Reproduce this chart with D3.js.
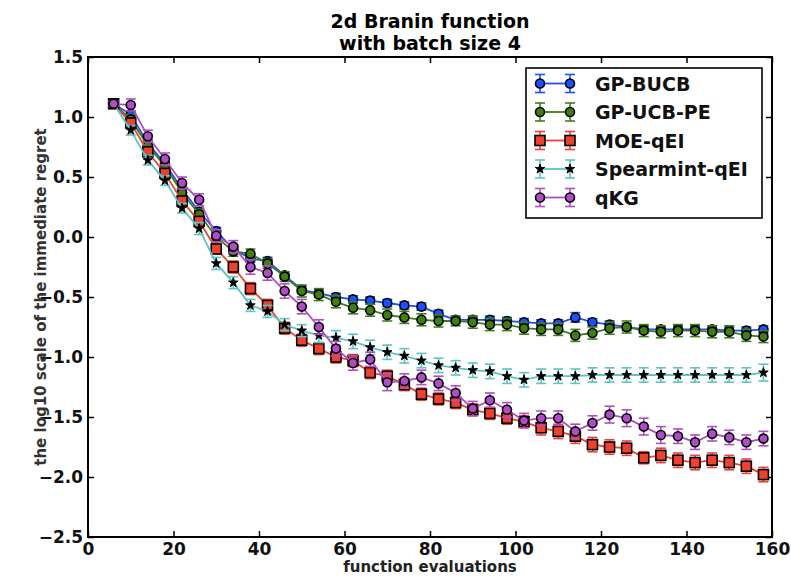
<!DOCTYPE html>
<html>
  <head>
    <meta charset="utf-8">
    <title>2d Branin function with batch size 4</title>
    <script type="text/javascript" src="https://d3js.org/d3.v7.min.js"></script>
    <style>
      body { margin: 0; background: #fff; }
      text { font-family: "DejaVu Sans", sans-serif; }
    </style>
  </head>
  <body>
    <svg></svg>
    <script type="text/javascript">
      "use strict";

      // function evaluations (batch size 4)
      var evals = [6, 10, 14, 18, 22, 26, 30, 34, 38, 42, 46, 50, 54, 58, 62, 66, 70, 74, 78,
                   82, 86, 90, 94, 98, 102, 106, 110, 114, 118, 122, 126, 130, 134, 138, 142,
                   146, 150, 154, 158];

      var bucb = [1.11, 1.02, 0.78, 0.61, 0.40, 0.21, 0.05, -0.10, -0.18, -0.20, -0.32, -0.44,
                  -0.47, -0.50, -0.52, -0.53, -0.55, -0.57, -0.58, -0.64, -0.69, -0.69, -0.69,
                  -0.70, -0.71, -0.72, -0.72, -0.67, -0.71, -0.73, -0.75, -0.77, -0.77, -0.77,
                  -0.77, -0.77, -0.78, -0.78, -0.77];
      var bucbErr = [0.02, 0.03, 0.03, 0.03, 0.03, 0.03, 0.03, 0.03, 0.03, 0.03, 0.03, 0.03,
                     0.03, 0.03, 0.03, 0.03, 0.03, 0.03, 0.03, 0.03, 0.03, 0.03, 0.03, 0.03,
                     0.03, 0.03, 0.03, 0.04, 0.03, 0.03, 0.03, 0.03, 0.03, 0.03, 0.03, 0.03,
                     0.03, 0.03, 0.03];

      var ucbpe = [1.11, 0.98, 0.76, 0.59, 0.37, 0.19, 0.00, -0.12, -0.14, -0.22, -0.33, -0.45,
                   -0.48, -0.54, -0.59, -0.61, -0.65, -0.67, -0.69, -0.70, -0.70, -0.71, -0.73,
                   -0.73, -0.76, -0.77, -0.77, -0.82, -0.80, -0.76, -0.75, -0.78, -0.79, -0.78,
                   -0.78, -0.79, -0.79, -0.82, -0.83];
      var ucbpeErr = [0.02, 0.04, 0.04, 0.04, 0.04, 0.04, 0.04, 0.04, 0.04, 0.04, 0.04, 0.05,
                      0.05, 0.05, 0.05, 0.05, 0.05, 0.05, 0.05, 0.05, 0.04, 0.05, 0.05, 0.05,
                      0.05, 0.05, 0.05, 0.05, 0.05, 0.05, 0.05, 0.05, 0.05, 0.05, 0.05, 0.05,
                      0.05, 0.05, 0.05];

      var moe = [1.11, 0.95, 0.71, 0.53, 0.30, 0.13, -0.10, -0.25, -0.43, -0.57, -0.76, -0.86,
                 -0.93, -1.00, -1.03, -1.13, -1.16, -1.23, -1.31, -1.35, -1.38, -1.44, -1.47,
                 -1.51, -1.54, -1.59, -1.62, -1.66, -1.73, -1.75, -1.76, -1.84, -1.82, -1.86,
                 -1.88, -1.86, -1.88, -1.91, -1.98];
      var moeErr = [0.02, 0.03, 0.03, 0.04, 0.04, 0.04, 0.04, 0.05, 0.05, 0.05, 0.05, 0.05,
                    0.05, 0.05, 0.05, 0.05, 0.05, 0.05, 0.05, 0.05, 0.05, 0.05, 0.05, 0.05,
                    0.05, 0.06, 0.06, 0.06, 0.06, 0.06, 0.06, 0.05, 0.06, 0.06, 0.06, 0.06,
                    0.06, 0.06, 0.06];

      var spearmint = [1.11, 0.89, 0.64, 0.47, 0.24, 0.07, -0.22, -0.38, -0.57, -0.62, -0.73,
                       -0.78, -0.82, -0.84, -0.87, -0.92, -0.96, -0.99, -1.03, -1.07, -1.09,
                       -1.11, -1.12, -1.16, -1.19, -1.16, -1.16, -1.16, -1.15, -1.15, -1.15,
                       -1.15, -1.15, -1.15, -1.15, -1.15, -1.15, -1.15, -1.13];
      var spearmintErr = [0.02, 0.04, 0.04, 0.04, 0.04, 0.05, 0.05, 0.05, 0.05, 0.05, 0.05,
                          0.05, 0.06, 0.06, 0.06, 0.06, 0.06, 0.06, 0.06, 0.06, 0.06, 0.06,
                          0.06, 0.06, 0.06, 0.06, 0.06, 0.06, 0.06, 0.06, 0.06, 0.06, 0.06,
                          0.06, 0.06, 0.06, 0.06, 0.06, 0.07];

      var qkg = [1.11, 1.10, 0.84, 0.65, 0.45, 0.31, 0.01, -0.08, -0.25, -0.30, -0.45, -0.58,
                 -0.75, -0.93, -1.05, -1.02, -1.21, -1.20, -1.17, -1.22, -1.30, -1.43, -1.36,
                 -1.44, -1.53, -1.51, -1.51, -1.62, -1.55, -1.48, -1.51, -1.58, -1.65, -1.66,
                 -1.71, -1.64, -1.67, -1.71, -1.68];
      var qkgErr = [0.02, 0.05, 0.05, 0.05, 0.05, 0.05, 0.05, 0.05, 0.06, 0.06, 0.06, 0.06,
                    0.06, 0.06, 0.06, 0.06, 0.07, 0.06, 0.06, 0.06, 0.06, 0.06, 0.06, 0.06,
                    0.06, 0.06, 0.06, 0.06, 0.06, 0.07, 0.07, 0.07, 0.07, 0.06, 0.06, 0.06,
                    0.06, 0.06, 0.06];

      var xTicks = [0, 20, 40, 60, 80, 100, 120, 140, 160];
      var yTicks = [-2.5, -2.0, -1.5, -1.0, -0.5, 0.0, 0.5, 1.0, 1.5];

      var series = [
        { name: 'GP-BUCB',       values: bucb,      err: bucbErr,      color: '#1a50ff', marker: 'circle' },
        { name: 'GP-UCB-PE',     values: ucbpe,     err: ucbpeErr,     color: '#3f7f12', marker: 'circle' },
        { name: 'MOE-qEI',       values: moe,       err: moeErr,       color: '#f0402e', marker: 'square' },
        { name: 'Spearmint-qEI', values: spearmint, err: spearmintErr, color: '#5cc4c4', marker: 'star' },
        { name: 'qKG',           values: qkg,       err: qkgErr,       color: '#b04cc8', marker: 'circle' }
      ];

      var width = 791, height = 578;
      var svg = d3.select('svg')
                  .attr('width', width)
                  .attr('height', height);

      var x = d3.scaleLinear().domain([0, 160]).range([88, 772]);
      var y = d3.scaleLinear().domain([-2.5, 1.5]).range([537, 57]);

      // title
      svg.append('text')
         .attr('x', 430).attr('y', 28)
         .attr('text-anchor', 'middle')
         .style('font-size', '19px').style('font-weight', 'bold')
         .text('2d Branin function');
      svg.append('text')
         .attr('x', 430).attr('y', 50)
         .attr('text-anchor', 'middle')
         .style('font-size', '19px').style('font-weight', 'bold')
         .text('with batch size 4');

      // axes, ticks pointing inward on all four sides
      var tickFont = function(g) {
        g.select('.domain').remove();
        g.selectAll('.tick line').attr('stroke', '#000').attr('stroke-width', 1.5);
        g.selectAll('.tick text')
         .style('font-size', '17px').style('font-weight', 'bold')
         .attr('fill', '#111');
      };

      svg.append('g')
         .attr('transform', 'translate(0,' + y(-2.5) + ')')
         .call(d3.axisBottom(x).tickValues(xTicks).tickSize(-6).tickSizeOuter(0).tickPadding(6))
         .call(tickFont);
      svg.append('g')
         .attr('transform', 'translate(0,' + y(1.5) + ')')
         .call(d3.axisTop(x).tickValues(xTicks).tickSize(-6).tickSizeOuter(0).tickFormat(''))
         .call(tickFont);
      svg.append('g')
         .attr('transform', 'translate(' + x(0) + ',0)')
         .call(d3.axisLeft(y).tickValues(yTicks).tickSize(-6).tickSizeOuter(0)
                 .tickPadding(5).tickFormat(d3.format('.1f')))
         .call(tickFont);
      svg.append('g')
         .attr('transform', 'translate(' + x(160) + ',0)')
         .call(d3.axisRight(y).tickValues(yTicks).tickSize(-6).tickSizeOuter(0).tickFormat(''))
         .call(tickFont);

      // axis labels
      svg.append('text')
         .attr('x', 430).attr('y', 572)
         .attr('text-anchor', 'middle')
         .style('font-size', '15px').style('font-weight', 'bold')
         .attr('fill', '#222')
         .text('function evaluations');
      svg.append('text')
         .attr('transform', 'translate(46,' + y(-0.5) + ') rotate(-90)')
         .attr('text-anchor', 'middle')
         .style('font-size', '15px').style('font-weight', 'bold')
         .attr('fill', '#333')
         .text('the log10 scale of the immediate regret');

      // marker drawing helper
      var drawMarker = function(g, s, cx, cy) {
        if (s.marker === 'square') {
          g.append('rect')
           .attr('x', cx - 5).attr('y', cy - 5)
           .attr('width', 10).attr('height', 10)
           .attr('fill', s.color).attr('stroke', '#000').attr('stroke-width', 1.6);
        } else if (s.marker === 'star') {
          g.append('path')
           .attr('transform', 'translate(' + cx + ',' + cy + ')')
           .attr('d', d3.symbol().type(d3.symbolStar).size(28)())
           .attr('fill', '#000').attr('stroke', '#000').attr('stroke-width', 1);
        } else {
          g.append('circle')
           .attr('cx', cx).attr('cy', cy).attr('r', 4.5)
           .attr('fill', s.color).attr('stroke', '#000').attr('stroke-width', 1.6);
        }
      };

      var line = d3.line()
                   .x(function(d) { return x(d.x); })
                   .y(function(d) { return y(d.v); });

      var plot = svg.append('g');
      series.forEach(function(s) {
        var pts = evals.map(function(e, i) {
          return { x: e, v: s.values[i], err: s.err[i] };
        });
        var g = plot.append('g');
        g.append('path')
         .datum(pts)
         .attr('d', line)
         .attr('fill', 'none')
         .attr('stroke', s.color)
         .attr('stroke-width', 1.8);
        // error bars with caps
        pts.forEach(function(d) {
          var cx = x(d.x), top = y(d.v + d.err), bot = y(d.v - d.err);
          g.append('line').attr('x1', cx).attr('x2', cx).attr('y1', top).attr('y2', bot)
           .attr('stroke', s.color).attr('stroke-width', 1.6);
          g.append('line').attr('x1', cx - 5).attr('x2', cx + 5).attr('y1', top).attr('y2', top)
           .attr('stroke', s.color).attr('stroke-width', 1.6);
          g.append('line').attr('x1', cx - 5).attr('x2', cx + 5).attr('y1', bot).attr('y2', bot)
           .attr('stroke', s.color).attr('stroke-width', 1.6);
        });
        pts.forEach(function(d) {
          drawMarker(g, s, x(d.x), y(d.v));
        });
      });

      // frame
      svg.append('rect')
         .attr('x', x(0)).attr('y', y(1.5))
         .attr('width', x(160) - x(0)).attr('height', y(-2.5) - y(1.5))
         .attr('fill', 'none').attr('stroke', '#000').attr('stroke-width', 2);

      // legend
      var legend = svg.append('g');
      legend.append('rect')
            .attr('x', 526).attr('y', 68).attr('width', 236).attr('height', 150)
            .attr('fill', '#fff').attr('stroke', '#000').attr('stroke-width', 1.6);
      series.forEach(function(s, i) {
        var ly = 83.5 + i * 28.5;
        var lg = legend.append('g');
        lg.append('line').attr('x1', 540).attr('x2', 570).attr('y1', ly).attr('y2', ly)
          .attr('stroke', s.color).attr('stroke-width', 1.8);
        [540, 570].forEach(function(lx) {
          lg.append('line').attr('x1', lx).attr('x2', lx).attr('y1', ly - 9).attr('y2', ly + 9)
            .attr('stroke', s.color).attr('stroke-width', 1.6);
          lg.append('line').attr('x1', lx - 5).attr('x2', lx + 5).attr('y1', ly - 9).attr('y2', ly - 9)
            .attr('stroke', s.color).attr('stroke-width', 1.6);
          lg.append('line').attr('x1', lx - 5).attr('x2', lx + 5).attr('y1', ly + 9).attr('y2', ly + 9)
            .attr('stroke', s.color).attr('stroke-width', 1.6);
          drawMarker(lg, s, lx, ly);
        });
        lg.append('text')
          .attr('x', 595).attr('y', ly + 7)
          .style('font-size', '19px').style('font-weight', 'bold')
          .attr('fill', '#111')
          .text(s.name);
      });
    </script>
  </body>
</html>
